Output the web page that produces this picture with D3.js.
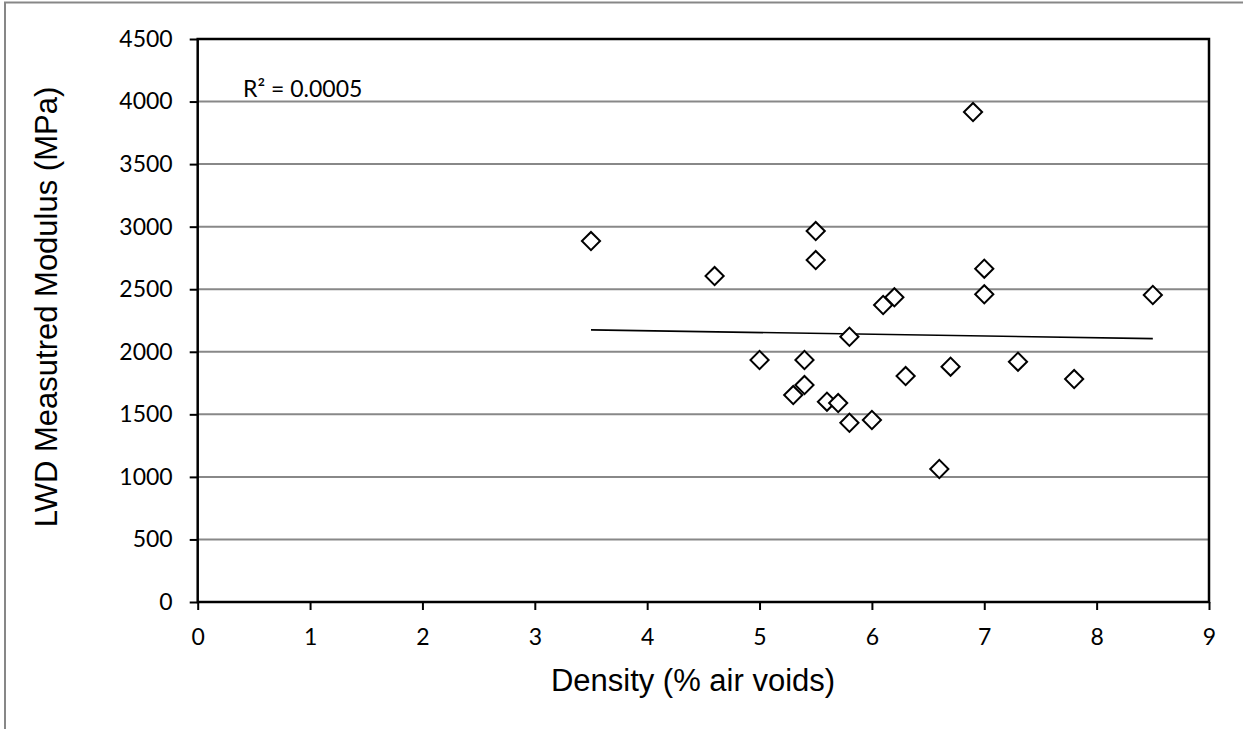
<!DOCTYPE html>
<html>
<head>
<meta charset="utf-8">
<script src="https://cdn.jsdelivr.net/npm/d3@7"></script>
<style>
  body { margin: 0; background: #fff; }
  svg { display: block; }
</style>
</head>
<body>
<svg id="chart" width="1243" height="729"></svg>
<script>
// air voids (%) and LWD modulus (MPa)
let density = [3.5, 4.6, 5.0, 5.3, 5.4, 5.4, 5.5, 5.5, 5.6, 5.7, 5.8, 5.8,
               6.0, 6.1, 6.2, 6.3, 6.6, 6.7, 6.9, 7.0, 7.0, 7.3, 7.8, 8.5]
let modulus = [2885, 2605, 1934, 1654, 1734, 1934, 2965, 2733, 1601, 1590, 1433, 2120,
               1455, 2374, 2435, 1806, 1063, 1881, 3916, 2664, 2459, 1921, 1782, 2454]

// linear trend line ends
let trendX = [3.5, 8.5]
let trendY = [2175, 2105]

let xTicks = [0, 1, 2, 3, 4, 5, 6, 7, 8, 9]
let yTicks = [0, 500, 1000, 1500, 2000, 2500, 3000, 3500, 4000, 4500]
let r2Label = 'R² = 0.0005'

let svg = d3.select('#chart')
let plotL = 197.7, plotR = 1209, plotT = 39, plotB = 602

let x = d3.scaleLinear().domain([0, 9]).range([plotL, plotR])
let y = d3.scaleLinear().domain([0, 4500]).range([plotB, plotT])

// outer chart frame (only top and left edges visible)
svg.append('path')
  .attr('d', 'M5,729 L5,2.5 L1243,2.5')
  .attr('fill', 'none')
  .attr('stroke', '#878787')
  .attr('stroke-width', 2)

// gridlines
svg.append('g')
  .selectAll('line')
  .data(yTicks.filter(d => d > 0 && d < 4500))
  .join('line')
  .attr('x1', plotL).attr('x2', plotR)
  .attr('y1', d => y(d)).attr('y2', d => y(d))
  .attr('stroke', '#888888')
  .attr('stroke-width', 2)

// plot box
svg.append('rect')
  .attr('x', plotL).attr('y', plotT)
  .attr('width', plotR - plotL).attr('height', plotB - plotT)
  .attr('fill', 'none')
  .attr('stroke', '#000')
  .attr('stroke-width', 2.5)

let xAxis = svg.append('g')
  .attr('transform', `translate(0,${plotB})`)
  .call(d3.axisBottom(x).tickValues(xTicks).tickSize(8).tickPadding(19).tickFormat(d3.format('d')))
let yAxis = svg.append('g')
  .attr('transform', `translate(${plotL},0)`)
  .call(d3.axisLeft(y).tickValues(yTicks).tickSize(8).tickPadding(17).tickFormat(d3.format('d')))

;[xAxis, yAxis].forEach(function(g) {
  g.select('.domain').remove()
  g.selectAll('.tick line').attr('stroke', '#000').attr('stroke-width', 2)
  g.selectAll('.tick text')
    .attr('fill', '#000')
    .style('font-family', 'Lato, "Open Sans", sans-serif')
    .style('font-size', '23px')
})

// trend line
svg.append('line')
  .attr('x1', x(trendX[0])).attr('y1', y(trendY[0]))
  .attr('x2', x(trendX[1])).attr('y2', y(trendY[1]))
  .attr('stroke', '#000')
  .attr('stroke-width', 1.6)

// diamond markers
let pts = density.map((d, i) => ({x: d, y: modulus[i]}))
let diamond = d3.symbol().type(d3.symbolSquare).size(165)
svg.append('g')
  .selectAll('path')
  .data(pts)
  .join('path')
  .attr('d', diamond)
  .attr('transform', d => `translate(${x(d.x)},${y(d.y)}) rotate(45)`)
  .attr('fill', '#fff')
  .attr('stroke', '#000')
  .attr('stroke-width', 2)

// R squared label
svg.append('text')
  .attr('x', 243).attr('y', 97)
  .style('font-family', 'Lato, "Open Sans", sans-serif')
  .style('font-size', '23px')
  .text(r2Label)

// axis titles
svg.append('text')
  .attr('x', 693).attr('y', 691)
  .attr('text-anchor', 'middle')
  .style('font-family', '"Liberation Sans", Arial, sans-serif')
  .style('font-size', '31px')
  .text('Density (% air voids)')

svg.append('text')
  .attr('transform', 'translate(57,307) rotate(-90)')
  .attr('text-anchor', 'middle')
  .style('font-family', '"Liberation Sans", Arial, sans-serif')
  .style('font-size', '31px')
  .text('LWD Measutred Modulus (MPa)')
</script>
</body>
</html>
